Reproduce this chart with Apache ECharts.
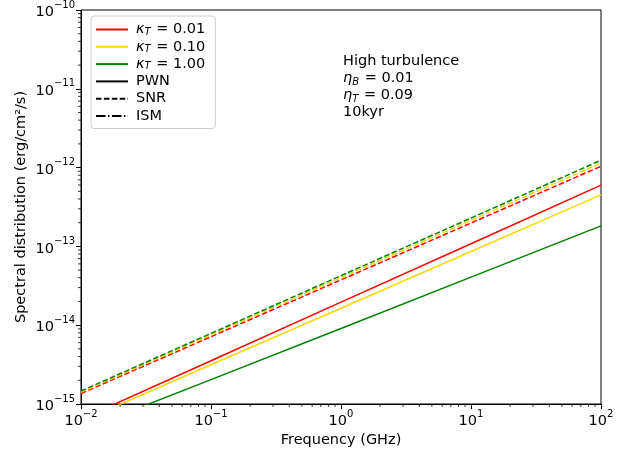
<!DOCTYPE html>
<html>
<head>
<meta charset="utf-8">
<script src="https://cdn.jsdelivr.net/npm/echarts@6/dist/echarts.min.js"></script>
<style>
  html, body { margin: 0; padding: 0; background: #fff; }
  #chart { width: 639px; height: 456px; }
</style>
</head>
<body>
<div id="chart"></div>
<script>
var freq = [0.01, 0.1, 1, 10, 100];

// PWN (solid)
var pwn_k001 = [6.4e-16, 3.54e-15, 1.96e-14, 1.08e-13, 6.0e-13];
var pwn_k010 = [6.0e-16, 3.15e-15, 1.64e-14, 8.6e-14, 4.5e-13];
var pwn_k100 = [4.6e-16, 2.04e-15, 9.1e-15, 4.07e-14, 1.82e-13];

// SNR (dashed)
var snr_k001 = [1.36e-15, 7.14e-15, 3.76e-14, 1.98e-13, 1.04e-12];
var snr_k010 = [1.41e-15, 7.53e-15, 4.02e-14, 2.14e-13, 1.14e-12];
var snr_k100 = [1.46e-15, 7.87e-15, 4.25e-14, 2.29e-13, 1.24e-12];

var kappaLabels = ['0.01', '0.10', '1.00'];
var xMin = 1e-2, xMax = 1e2;
var yMin = 1e-15, yMax = 1e-10;

var red = '#ff0000', gold = '#ffd700', green = '#008000';
var font = 'DejaVu Sans';
var fs = 14.5;

function pairs(ys) {
    return freq.map(function (f, i) { return [f, ys[i]]; });
}

// minor tick positions (2..9 x 10^k)
function minorTicks(lo, hi) {
    var list = [];
    for (var e = Math.round(Math.log10(lo)); e < Math.round(Math.log10(hi)); e++) {
        for (var m = 2; m <= 9; m++) list.push(m * Math.pow(10, e));
    }
    return list;
}

function powLabel(v) {
    var e = Math.round(Math.log10(v));
    return '{b|10}{s|' + (e < 0 ? '\u2212' + (-e) : e) + '}';
}

var powRich = {
    b: { fontFamily: font, fontSize: fs, color: '#000', lineHeight: 20, verticalAlign: 'bottom' },
    s: { fontFamily: font, fontSize: 10, color: '#000', lineHeight: 12, verticalAlign: 'top' }
};

var chartDom = document.getElementById('chart');
var myChart = echarts.init(chartDom);

function lineSeries(name, ys, color, dash) {
    return {
        name: name,
        type: 'line',
        data: pairs(ys),
        symbol: 'none',
        silent: true,
        animation: false,
        clip: true,
        lineStyle: { color: color, width: 1.5, type: dash || 'solid' },
        itemStyle: { color: color }
    };
}

var option = {
    backgroundColor: '#fff',
    animation: false,
    grid: {
        left: 81, right: 38, top: 8, bottom: 52,
        show: true, borderColor: '#000', borderWidth: 1
    },
    legend: {
        orient: 'vertical',
        left: 91,
        top: 16,
        padding: [6, 10, 5, 4],
        itemGap: 2.3,
        itemWidth: 32,
        itemHeight: 14,
        backgroundColor: '#fff',
        borderColor: '#cccccc',
        borderWidth: 1,
        borderRadius: 3,
        itemStyle: { opacity: 0, borderWidth: 0 },
        data: ['k001', 'k010', 'k100', 'PWN', 'SNR', 'ISM'],
        formatter: function (name) {
            var idx = ['k001', 'k010', 'k100'].indexOf(name);
            if (idx >= 0) {
                return '{k|\u03ba}{sub|T}{t| = ' + kappaLabels[idx] + '}';
            }
            return '{t|' + name + '}';
        },
        textStyle: {
            fontFamily: font, fontSize: fs, color: '#000', padding: [0, 0, 0, 3], lineHeight: 15,
            rich: {
                k: { fontFamily: font, fontSize: fs, fontStyle: 'italic', color: '#000', lineHeight: 15 },
                sub: { fontFamily: font, fontSize: 10, fontStyle: 'italic', color: '#000', verticalAlign: 'bottom', lineHeight: 10, padding: [0, 1, 0, 0] },
                t: { fontFamily: font, fontSize: fs, color: '#000', lineHeight: 15 }
            }
        }
    },
    xAxis: {
        type: 'log',
        logBase: 10,
        min: xMin,
        max: xMax,
        name: 'Frequency (GHz)',
        nameLocation: 'middle',
        nameGap: 29,
        nameMoveOverlap: false,
        nameTextStyle: { fontFamily: font, fontSize: fs, color: '#000' },
        axisLine: { show: true, onZero: false, lineStyle: { color: '#000', width: 1 } },
        axisTick: { show: true, length: 5, lineStyle: { color: '#000', width: 1 } },
        axisLabel: { formatter: powLabel, rich: powRich, margin: 5 },
        splitLine: { show: false }
    },
    yAxis: {
        type: 'log',
        logBase: 10,
        min: yMin,
        max: yMax,
        name: 'Spectral distribution (erg/cm\u00b2/s)',
        nameLocation: 'middle',
        nameGap: 52,
        nameMoveOverlap: false,
        nameRotate: 90,
        nameTextStyle: { fontFamily: font, fontSize: fs, color: '#000' },
        axisLine: { show: true, onZero: false, lineStyle: { color: '#000', width: 1 } },
        axisTick: { show: true, length: 5, lineStyle: { color: '#000', width: 1 } },
        axisLabel: { formatter: powLabel, rich: powRich, margin: 6 },
        splitLine: { show: false }
    },
    graphic: [{
        type: 'text',
        left: 343,
        top: 53,
        style: {
            text: 'High turbulence\n{e|\u03b7}{sub|B}{t| = 0.01}\n{e|\u03b7}{sub|T}{t| = 0.09}\n10kyr',
            fontFamily: font,
            fontSize: fs,
            lineHeight: 17,
            fill: '#000',
            rich: {
                e: { fontFamily: font, fontSize: fs, fontStyle: 'italic', lineHeight: 17 },
                sub: { fontFamily: font, fontSize: 10, fontStyle: 'italic', verticalAlign: 'bottom', lineHeight: 11, padding: [0, 1, 0, 0] },
                t: { fontFamily: font, fontSize: fs, lineHeight: 17 }
            }
        }
    }],
    series: [
        lineSeries('k001', pwn_k001, red),
        lineSeries('k010', pwn_k010, gold),
        lineSeries('k100', pwn_k100, green),
        lineSeries('snr_k001', snr_k001, red, [5.5, 2.4]),
        lineSeries('snr_k010', snr_k010, gold, [5.5, 2.4]),
        lineSeries('snr_k100', snr_k100, green, [5.5, 2.4]),
        lineSeries('PWN', [], '#000'),
        lineSeries('SNR', [], '#000', [5.5, 2.4]),
        lineSeries('ISM', [], '#000', [9.6, 2.4, 1.5, 2.4]),
        {
            // minor ticks on the x axis
            type: 'custom',
            silent: true,
            clip: false,
            data: minorTicks(xMin, xMax).map(function (v) { return [v, yMin]; }),
            renderItem: function (params, api) {
                var p = api.coord([api.value(0), api.value(1)]);
                return {
                    type: 'line',
                    shape: { x1: p[0], y1: p[1], x2: p[0], y2: p[1] + 3 },
                    style: { stroke: '#000', lineWidth: 0.8 }
                };
            }
        },
        {
            // minor ticks on the y axis
            type: 'custom',
            silent: true,
            clip: false,
            data: minorTicks(yMin, yMax).map(function (v) { return [xMin, v]; }),
            renderItem: function (params, api) {
                var p = api.coord([api.value(0), api.value(1)]);
                return {
                    type: 'line',
                    shape: { x1: p[0], y1: p[1], x2: p[0] - 3, y2: p[1] },
                    style: { stroke: '#000', lineWidth: 0.8 }
                };
            }
        }
    ]
};

myChart.setOption(option);
</script>
</body>
</html>
